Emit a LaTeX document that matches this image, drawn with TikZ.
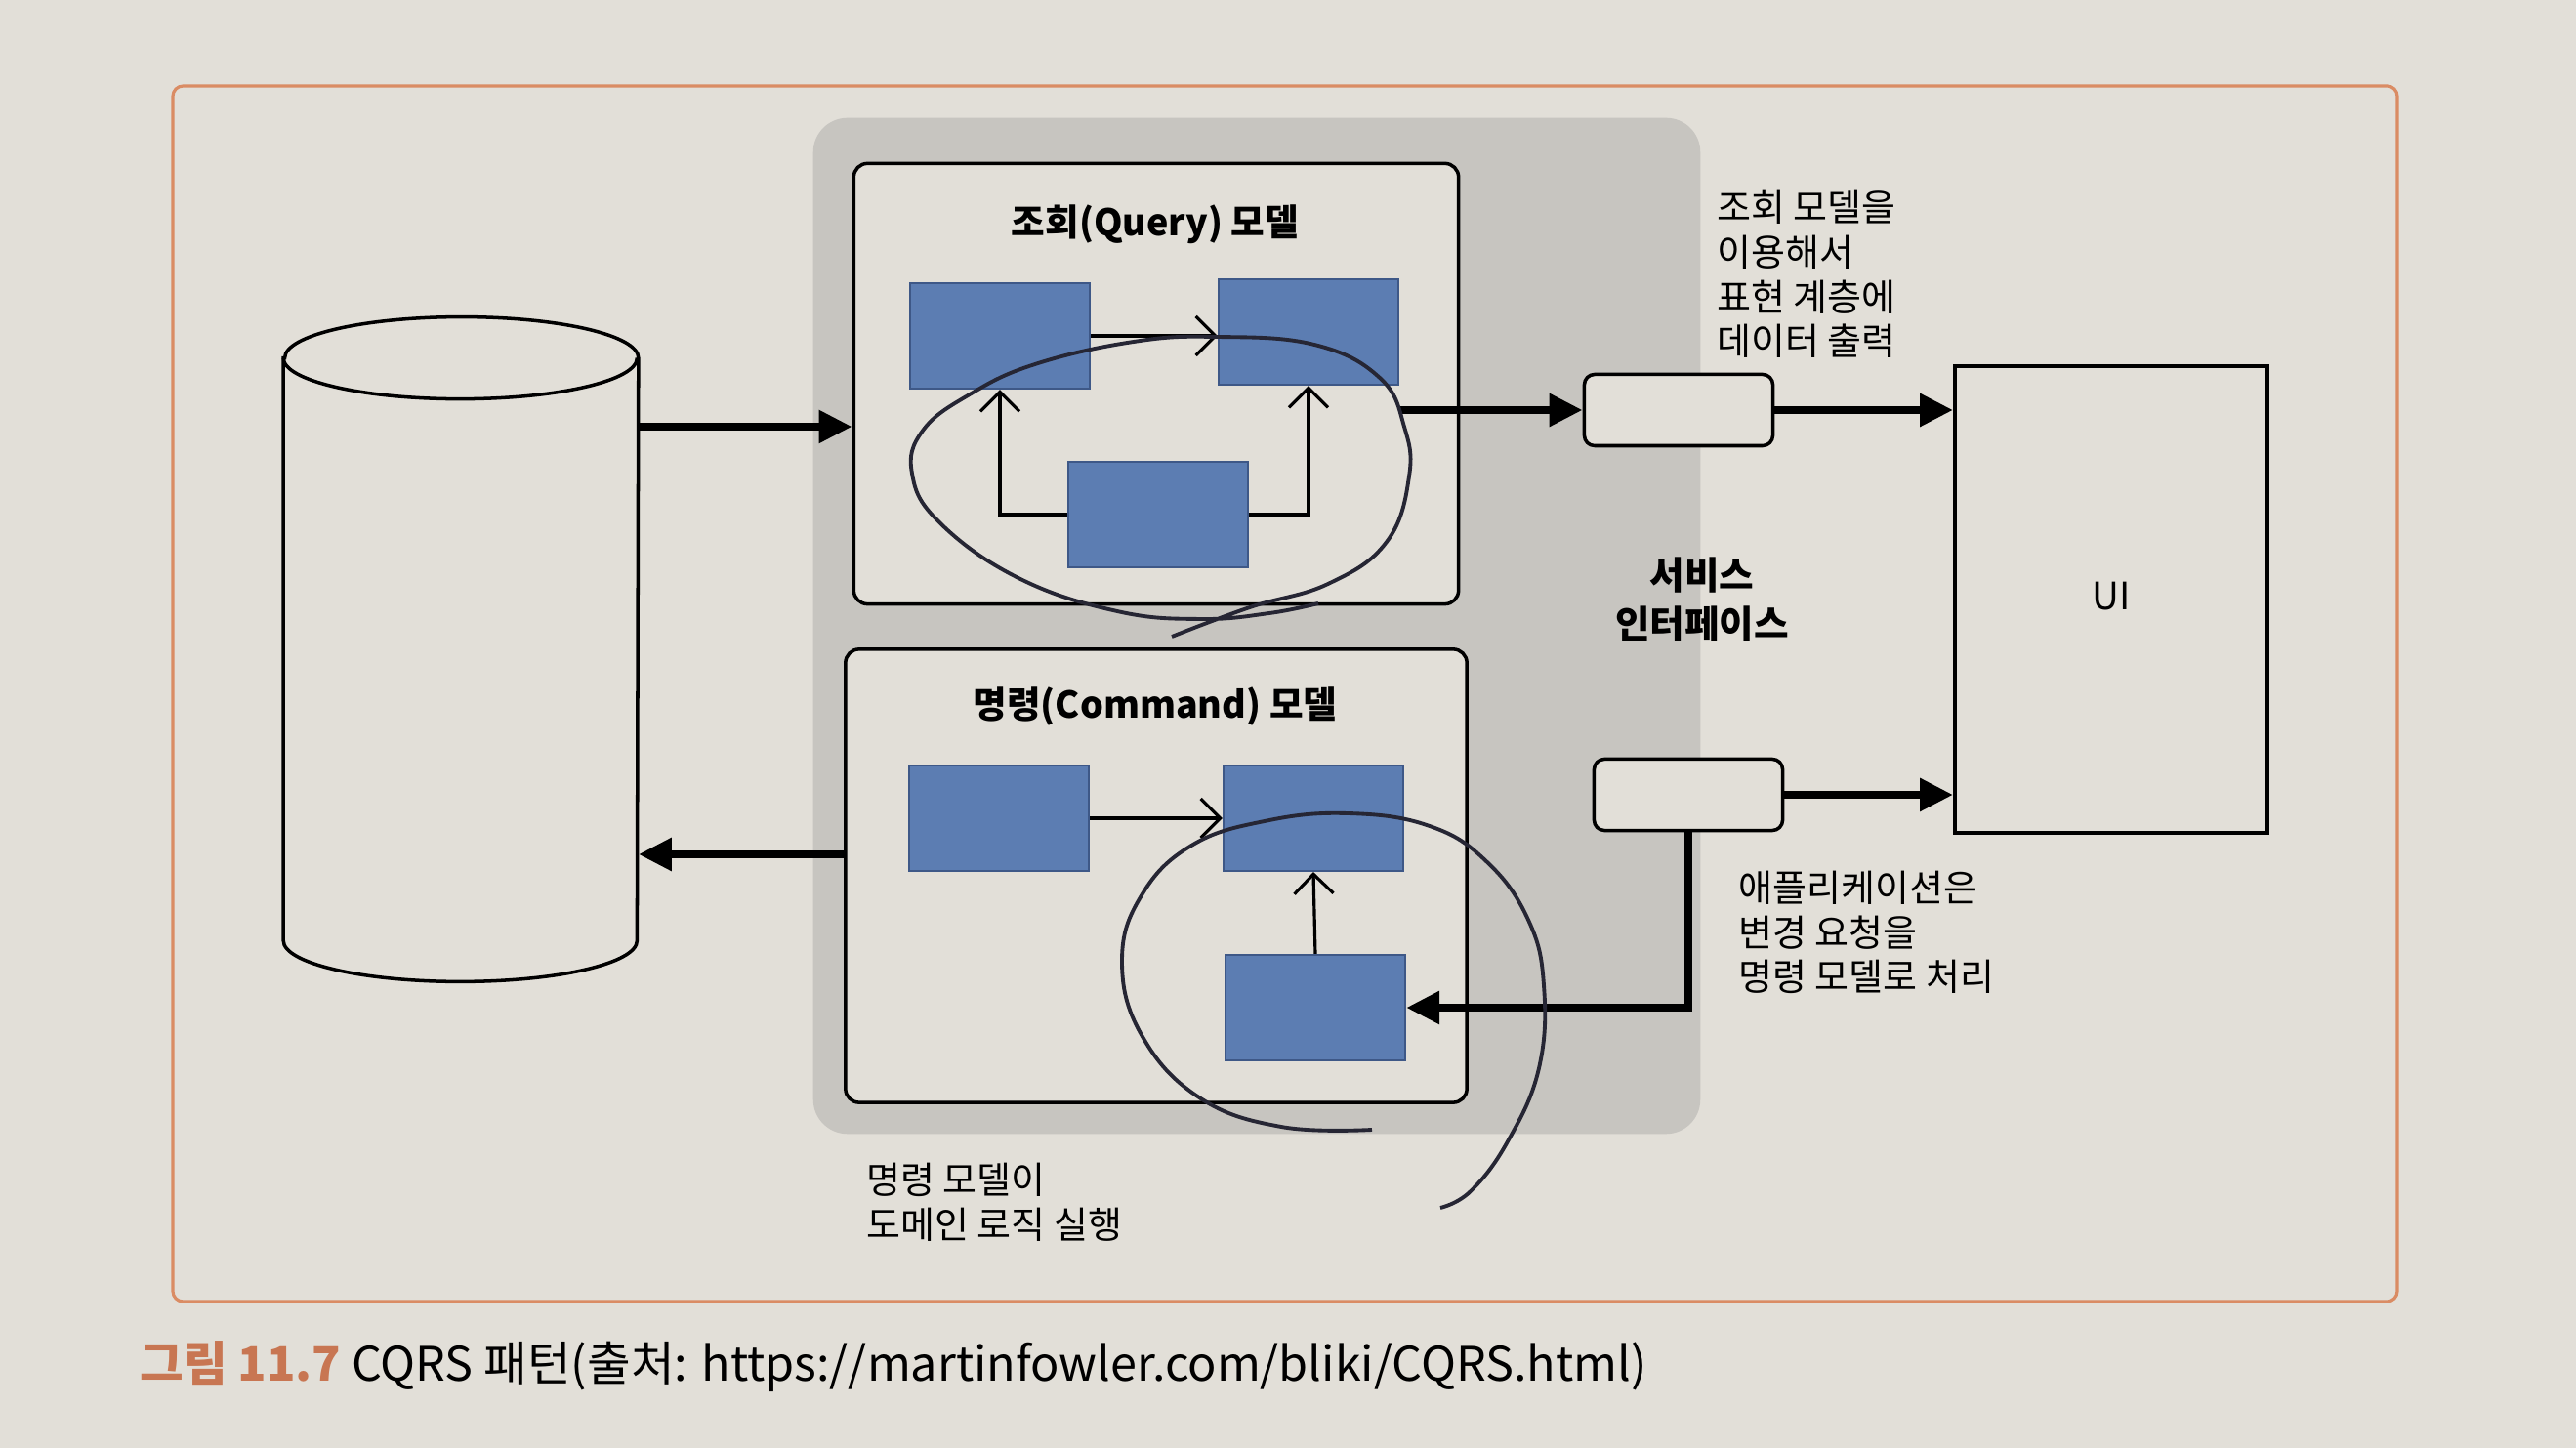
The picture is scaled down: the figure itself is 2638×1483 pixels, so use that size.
\documentclass[tikz,border=0pt]{standalone}
\usepackage{fontspec}
\setmainfont{Noto Sans CJK KR}
\usetikzlibrary{arrows.meta, positioning}
\definecolor{paper}{RGB}{226,223,216}
\definecolor{svcgray}{RGB}{199,197,192}
\definecolor{boxblue}{RGB}{92,125,178}
\definecolor{boxedge}{RGB}{62,88,135}
\definecolor{frameorange}{RGB}{218,140,100}
\definecolor{capOrange}{RGB}{200,118,82}
\definecolor{pen}{RGB}{38,38,52}

\begin{document}
\begin{tikzpicture}[x=0.01cm, y=-0.01cm,
    model/.style={draw, line width=1pt, rounded corners=4pt, fill=paper},
    part/.style={draw=boxedge, line width=0.6pt, fill=boxblue, minimum width=1.84cm, minimum height=1.08cm},
    port/.style={draw, line width=1pt, rounded corners=3pt, fill=paper, minimum width=1.93cm, minimum height=0.73cm},
    flow/.style={-{Triangle[length=3.4mm, width=3.2mm]}, line width=2.4pt},
    link/.style={-{Straight Barb[length=2mm, width=4mm]}, line width=0.9pt},
    note/.style={align=left, font=\fontsize{10.8}{13}\selectfont},
    title/.style={font=\fontsize{10.7}{13}\selectfont\bfseries},
    penloop/.style={pen, line width=1.1pt}]
    % Page and frame
    \fill[paper] (0,0) rectangle (2638,1483);
    \useasboundingbox (0,0) rectangle (2638,1483);
    \draw[frameorange, line width=0.9pt, rounded corners=3pt] (177,88) rectangle (2455,1333);

    % Service interface area
    \node (svc) [fill=svcgray, rounded corners=10pt, minimum width=9.08cm, minimum height=10.4cm] at (1287,641) {};

    % Database
    \node (db) [minimum width=3.62cm, minimum height=5.95cm] at (472,665) {};
    \draw[line width=1pt, fill=paper] (db.north west) -- (db.south west)
        arc[start angle=180, end angle=360, x radius=1.81cm, y radius=0.42cm] -- (db.north east)
        arc[start angle=0, end angle=180, x radius=1.81cm, y radius=0.42cm] -- cycle;
    \draw[line width=1pt] (db.north west) arc[start angle=180, end angle=360, x radius=1.81cm, y radius=0.42cm];

    % Query model
    \node (qbox) [model, minimum width=6.19cm, minimum height=4.51cm] at (1184,393) {};
    \node (qtitle) [title] at (1183,230) {조회(Query) 모델};
    \node (qA) [part] at (1024,344) {};
    \node (qB) [part] at (1340,340) {};
    \node (qC) [part] at (1186,527) {};

    % Command model
    \node (cbox) [model, minimum width=6.36cm, minimum height=4.64cm] at (1184,897) {};
    \node (ctitle) [title] at (1183,723) {명령(Command) 모델};
    \node (cD) [part] at (1023,838) {};
    \node (cE) [part] at (1345,838) {};
    \node (cF) [part] at (1347,1032) {};

    % Ports and UI
    \node (readport) [port] at (1719,420) {};
    \node (writeport) [port] at (1729,814) {};
    \node (ui) [draw, line width=1pt, fill=paper, minimum width=3.2cm, minimum height=4.78cm] at (2162,614) {};
    \node (uilabel) [font=\fontsize{11}{13}\selectfont] at (2162,611) {UI};

    % Labels
    \node (svclabel) [align=center, font=\fontsize{11}{14}\selectfont\bfseries] at (1743,614) {서비스\\인터페이스};
    \node (readnote) [note, anchor=west] at (1746,281) {조회 모델을\\이용해서\\표현 계층에\\데이터 출력};
    \node (writenote) [note, anchor=west] at (1768,955) {애플리케이션은\\변경 요청을\\명령 모델로 처리};
    \node (domainnote) [note, anchor=west] at (875,1231) {명령 모델이\\도메인 로직 실행};
    \node (caption) [anchor=west, font=\fontsize{13.8}{16}\selectfont] at (131,1400)
        {\textcolor{capOrange}{\bfseries 그림 11.7} CQRS 패턴(출처: https://martinfowler.com/bliki/CQRS.html)};

    % Arrows
    \draw[flow] (db.east |- 0,437) -- (qbox.west |- 0,437);
    \draw[flow] (cbox.west |- 0,875) -- (db.east |- 0,875);
    \draw[flow] (qB.east |- readport.west) -- (readport.west);
    \draw[flow] (readport.east) -- (readport.east -| ui.west);
    \draw[flow] (writeport.east) -- (writeport.east -| ui.west);
    \draw[flow] (writeport.south) |- (cF.east);
    \draw[link] (qA.east) -- (qA.east -| qB.west);
    \draw[link] (qC.west) -| (qA.south);
    \draw[link] (qC.east) -| (qB.south);
    \draw[link] (cD.east) -- (cD.east -| cE.west);
    \draw[link] (cF.north) -- (cE.south);

    % Pen loops
    \draw[penloop] plot[smooth, tension=0.7] coordinates {(1200,652) (1280,622) (1360,598) (1420,555) (1443,488)
        (1438,437) (1413,387) (1346,353) (1245,345) (1161,350) (1060,373) (993,404) (945,441) (934,485)
        (962,535) (1043,592) (1144,626) (1230,634) (1300,628) (1350,618)};
    \draw[penloop] plot[smooth, tension=0.7] coordinates {(1405,1157) (1312,1154) (1228,1124) (1169,1060)
        (1149,984) (1169,917) (1220,866) (1295,841) (1380,833) (1464,846) (1523,883) (1565,942)
        (1581,1009) (1576,1094) (1544,1169) (1506,1220) (1475,1237)};
  \end{tikzpicture}
\end{document}
